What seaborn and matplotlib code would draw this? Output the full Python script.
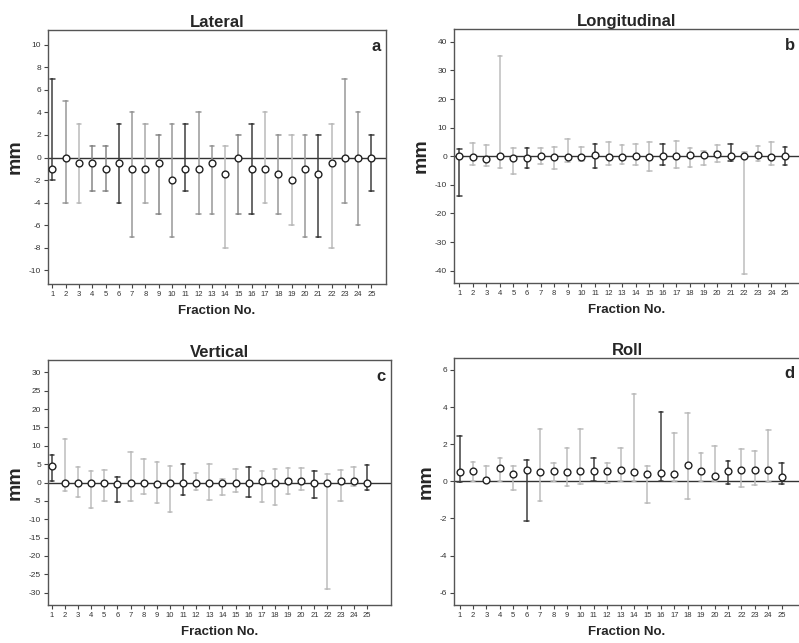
import numpy as np
import pandas as pd
import matplotlib
matplotlib.use("Agg")
import matplotlib.pyplot as plt
import seaborn as sns

sns.set_theme(style="white")
plt.rcParams['font.family'] = ['Liberation Sans', 'DejaVu Sans']

fractions = list(range(1, 26))

# Lateral (a)
lat_mean = [-1, 0, -0.5, -0.5, -1, -0.5, -1, -1, -0.5, -2, -1, -1, -0.5, -1.5, 0, -1, -1, -1.5, -2, -1, -1.5, -0.5, 0, 0, 0]
lat_up = [7, 5, 3, 1, 1, 3, 4, 3, 2, 3, 3, 4, 1, 1, 2, 3, 4, 2, 2, 2, 2, 3, 7, 4, 2]
lat_lo = [-2, -4, -4, -3, -3, -4, -7, -4, -5, -7, -3, -5, -5, -8, -5, -5, -4, -5, -6, -7, -7, -8, -4, -6, -3]

# Longitudinal (b)
lon_mean = [0, -0.3, -0.8, 0, -0.5, -0.5, 0, -0.3, -0.3, -0.3, 0.3, -0.3, -0.2, 0, -0.3, 0, 0, 0.5, 0.3, 0.8, 0, 0, 0.3, -0.2, 0]
lon_up = [2.5, 4.5, 3.8, 35, 3, 3, 3, 3.2, 6, 3.3, 4.2, 5, 3.8, 4.2, 5, 4.2, 5.3, 3, 2, 4, 4.2, 1.5, 3.5, 5, 3.3]
lon_lo = [-14, -3, -3.5, -4, -6.3, -4.2, -2.8, -4.5, -2, -1.5, -4, -3, -2.8, -3, -5, -3, -4, -3.8, -3, -2, -1.5, -41, -1.5, -3, -3]

# Vertical (c)
ver_mean = [4.5, 0, 0, 0, 0, -0.5, 0, 0, -0.5, 0, 0, 0, 0, 0, 0, 0, 0.5, 0, 0.5, 0.5, 0, 0, 0.3, 0.5, 0]
ver_up = [7.5, 11.8, 4.2, 3, 3.3, 1.5, 8.2, 6.5, 5.5, 4.5, 5, 2.7, 5, 1, 3.7, 4.3, 3, 3.6, 4, 4, 3, 2.3, 3.3, 4.3, 4.8]
ver_lo = [0.5, -2.3, -4, -7, -5, -5.3, -5, -3, -5.5, -8, -3.5, -2, -4.7, -3.5, -2.7, -4, -5.3, -6, -3, -2, -4.3, -29, -5, -1, -2]

# Roll (d)
rol_mean = [0.5, 0.55, 0.05, 0.7, 0.4, 0.6, 0.5, 0.55, 0.5, 0.55, 0.55, 0.55, 0.6, 0.5, 0.4, 0.45, 0.4, 0.9, 0.55, 0.3, 0.55, 0.6, 0.6, 0.6, 0.25]
rol_up = [2.45, 1.05, 0.85, 1.25, 0.8, 1.15, 2.8, 1.0, 1.8, 2.8, 1.25, 1.0, 1.8, 4.7, 0.85, 3.75, 2.6, 3.7, 1.55, 1.9, 1.1, 1.75, 1.65, 2.75, 1.0]
rol_lo = [-0.05, 0, 0, 0, -0.45, -2.15, -1.05, 0, -0.25, -0.15, 0, -0.1, 0, 0, -1.15, 0, 0, -0.95, 0, 0, -0.15, -0.3, -0.2, -0.05, -0.15]

titles = ["Lateral", "Longitudinal", "Vertical", "Roll"]
letters = ["a", "b", "c", "d"]
yticks_list = [np.arange(-10, 11, 2), np.arange(-40, 41, 10), np.arange(-30, 31, 5), np.arange(-6, 7, 2)]
ylims = [(-11.2, 11.3), (-44.3, 44.5), (-33.4, 33.4), (-6.66, 6.66)]
xlims = [(0.67, 26.1), (0.62, 26.1), (0.71, 26.84), (0.58, 26.37)]
rects = [
    [48/799, 1-284/643, 338/799, 254/643],
    [454/799, 1-283/643, 346/799, 254/643],
    [48/799, 1-605/643, 343/799, 245/643],
    [454/799, 1-605/643, 346/799, 247.3/643],
]

dark = "#404040"
shades_a = [dark, "#999999", "#bbbbbb", "#888888", "#888888", dark, "#999999", "#aaaaaa", "#888888", "#999999",
            dark, "#999999", "#999999", "#bbbbbb", "#888888", dark, "#bbbbbb", "#999999", "#bbbbbb", "#999999",
            dark, "#bbbbbb", "#999999", "#999999", dark]
shades_other = [dark if f in (1, 6, 11, 16, 21, 25) else "#bdbdbd" for f in fractions]
shade_sets = [shades_a, shades_other, shades_other, shades_other]

datasets = [(lat_mean, lat_up, lat_lo), (lon_mean, lon_up, lon_lo),
            (ver_mean, ver_up, ver_lo), (rol_mean, rol_up, rol_lo)]

fig = plt.figure(figsize=(7.99, 6.43), dpi=100)

for i, (mean, up, lo) in enumerate(datasets):
    ax = fig.add_axes(rects[i])
    long = pd.DataFrame({
        "fraction": fractions * 3,
        "value": list(lo) + list(mean) + list(up),
    })
    pal = {f: c for f, c in zip(fractions, shade_sets[i])}
    ax.axhline(0, color="#333333", lw=1.0, zorder=1)
    sns.pointplot(data=long, x="fraction", y="value", hue="fraction", palette=pal,
                  estimator="median", errorbar=("pi", 100), linestyle="none",
                  marker="", capsize=0.35, err_kws={"linewidth": 1.1},
                  native_scale=True, legend=False, ax=ax, zorder=2)
    dfm = pd.DataFrame({"fraction": fractions, "mean": mean})
    sns.scatterplot(data=dfm, x="fraction", y="mean", s=24, color="white",
                    edgecolor="#222222", linewidth=1.0, ax=ax, zorder=5)
    ax.set_xlim(*xlims[i])
    ax.set_ylim(*ylims[i])
    ax.set_xticks(fractions)
    ax.set_xticklabels([str(f) for f in fractions], fontsize=5.5, color="#333333")
    ax.set_yticks(yticks_list[i])
    ax.set_yticklabels([str(t) for t in yticks_list[i]], fontsize=6, color="#333333")
    ax.tick_params(axis="both", which="both", direction="out", length=3, width=0.8,
                   color="#444444", pad=2, bottom=True, left=True)
    for s in ax.spines.values():
        s.set_color("#555555")
        s.set_linewidth(1.0)
    ax.set_title(titles[i], fontsize=12, fontweight="bold", pad=2)
    ax.set_xlabel("Fraction No.", fontsize=9.5, fontweight="bold", labelpad=5)
    ax.set_ylabel("mm", fontsize=14, fontweight="bold", labelpad=4)
    ax.text(0.985, 0.965, letters[i], transform=ax.transAxes, ha="right", va="top",
            fontsize=12, fontweight="bold")

fig.savefig("out.png", dpi=100)
